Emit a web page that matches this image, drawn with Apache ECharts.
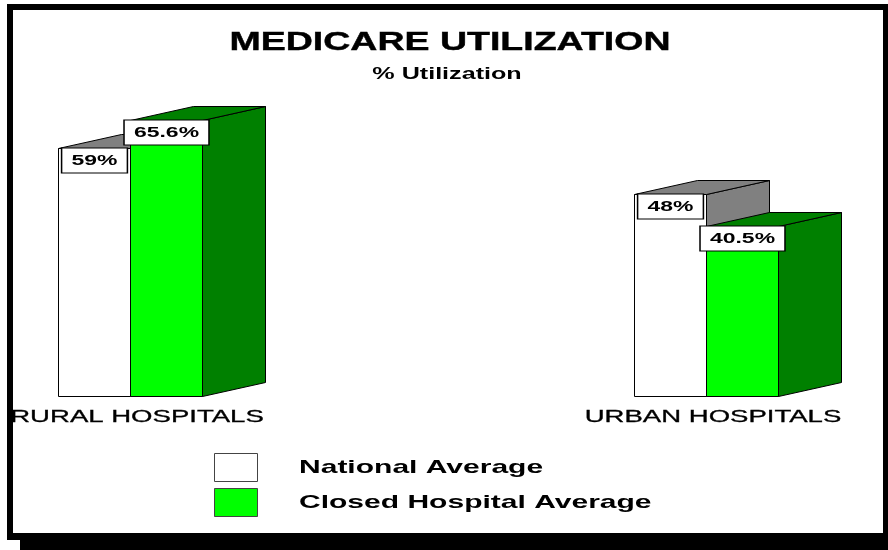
<!DOCTYPE html>
<html lang="en">
<head>
    <meta charset="utf-8">
</head>
<body style="margin: 0; background: #fff">
<div id="container" style="width: 888px; height: 550px"></div>

<script type="text/javascript" src="https://fastly.jsdelivr.net/npm/echarts@6/dist/echarts.min.js"></script>
<script type="text/javascript">
    // data
    var categories = ['RURAL HOSPITALS', 'URBAN HOSPITALS'];
    var seriesNames = ['National Average', 'Closed Hospital Average'];
    var nationalValues = [59, 48];
    var closedValues = [65.6, 40.5];

    // looks
    var frontColors = ['#ffffff', '#00ff00'];
    var topColors = ['#808080', '#008000'];
    var sideColors = ['#808080', '#008000'];
    var FONT = '"Liberation Sans", Arial, Helvetica, sans-serif';
    var BAR_W = 72, DX = 63, DY = 14;
    var STRETCH = 1.53;   // the original text is drawn wide

    var dom = document.getElementById('container');
    var myChart = echarts.init(dom, null, {renderer: 'canvas'});

    function barRenderer(s) {
        return function (params, api) {
            var cat = api.value(0), val = api.value(1);
            var topPt = api.coord([cat, val]);
            var basePt = api.coord([cat, 0]);
            var x0 = Math.round(topPt[0] - BAR_W + s * BAR_W) + 0.5;
            var x1 = x0 + BAR_W;
            var y0 = Math.round(topPt[1]) + 0.5;
            var y1 = Math.round(basePt[1]) + 0.5;
            var edge = {stroke: '#000', lineWidth: 1};
            return {
                type: 'group',
                children: [
                    {
                        type: 'polygon',
                        shape: {points: [[x1, y0], [x1 + DX, y0 - DY], [x1 + DX, y1 - DY], [x1, y1]]},
                        style: Object.assign({fill: sideColors[s]}, edge)
                    },
                    {
                        type: 'polygon',
                        shape: {points: [[x0, y0], [x1, y0], [x1 + DX, y0 - DY], [x0 + DX, y0 - DY]]},
                        style: Object.assign({fill: topColors[s]}, edge)
                    },
                    {
                        type: 'rect',
                        shape: {x: x0, y: y0, width: BAR_W, height: y1 - y0},
                        style: Object.assign({fill: frontColors[s]}, edge)
                    },
                    {
                        type: 'text',
                        x: (x0 + x1) / 2,
                        y: y0,
                        scaleX: STRETCH,
                        style: {
                            text: val + '%',
                            font: 'bold 15px ' + FONT,
                            fill: '#000',
                            align: 'center',
                            verticalAlign: 'top',
                            backgroundColor: '#fff',
                            borderColor: '#000',
                            borderWidth: 1,
                            padding: [5, 6, 4, 6]
                        }
                    }
                ]
            };
        };
    }

    function catLabelRenderer(params, api) {
        var i = api.value(0);
        var pt = api.coord([i, 0]);
        return {
            type: 'text',
            x: pt[0] + 7,
            y: pt[1] + 21,
            scaleX: 1.62,
            style: {
                text: categories[i],
                font: '17px ' + FONT,
                fill: '#000',
                stroke: '#000',
                lineWidth: 0.3,
                align: 'center',
                verticalAlign: 'middle'
            }
        };
    }

    function toPairs(values) {
        return values.map(function (v, i) { return [i, v]; });
    }

    var legendItems = seriesNames.map(function (name, i) {
        var top = 453 + i * 35;
        return [
            {
                type: 'rect',
                shape: {x: 214.5, y: top + 0.5, width: 43, height: 28},
                style: {fill: frontColors[i], stroke: '#444', lineWidth: 1}
            },
            {
                type: 'text',
                x: 299,
                y: top + 15,
                scaleX: 1.58,
                style: {
                    text: name,
                    font: 'bold 19px ' + FONT,
                    fill: '#000',
                    align: 'left',
                    verticalAlign: 'middle'
                }
            }
        ];
    });

    var option = {
        animation: false,
        grid: {left: 130, right: 182, top: 102, bottom: 154},
        xAxis: {
            type: 'category',
            data: categories,
            boundaryGap: false,
            axisLine: {show: false},
            axisTick: {show: false},
            axisLabel: {show: false}
        },
        yAxis: {
            type: 'value',
            min: 0,
            max: 70,
            show: false,
            splitLine: {show: false}
        },
        graphic: [
            {type: 'rect', z: -10, shape: {x: 7, y: 4, width: 881, height: 536}, style: {fill: '#000'}},
            {type: 'rect', z: -10, shape: {x: 20, y: 540, width: 868, height: 10}, style: {fill: '#000'}},
            {type: 'rect', z: -9, shape: {x: 13, y: 10, width: 870, height: 523}, style: {fill: '#fff'}},
            {
                type: 'text', x: 450, y: 43, scaleX: 1.5,
                style: {
                    text: 'MEDICARE UTILIZATION', font: 'bold 25px ' + FONT, fill: '#000',
                    stroke: '#000', lineWidth: 0.4, align: 'center', verticalAlign: 'middle'
                }
            },
            {
                type: 'text', x: 447, y: 75, scaleX: 1.57,
                style: {text: '% Utilization', font: 'bold 16px ' + FONT, fill: '#000', align: 'center', verticalAlign: 'middle'}
            }
        ].concat(legendItems[0], legendItems[1]),
        series: [
            {
                name: seriesNames[0],
                type: 'custom',
                renderItem: barRenderer(0),
                data: toPairs(nationalValues)
            },
            {
                name: seriesNames[1],
                type: 'custom',
                renderItem: barRenderer(1),
                data: toPairs(closedValues)
            },
            {
                type: 'custom',
                silent: true,
                renderItem: catLabelRenderer,
                data: toPairs([0, 0])
            }
        ]
    };

    myChart.setOption(option);
    window.addEventListener('resize', myChart.resize);
</script>
</body>
</html>
